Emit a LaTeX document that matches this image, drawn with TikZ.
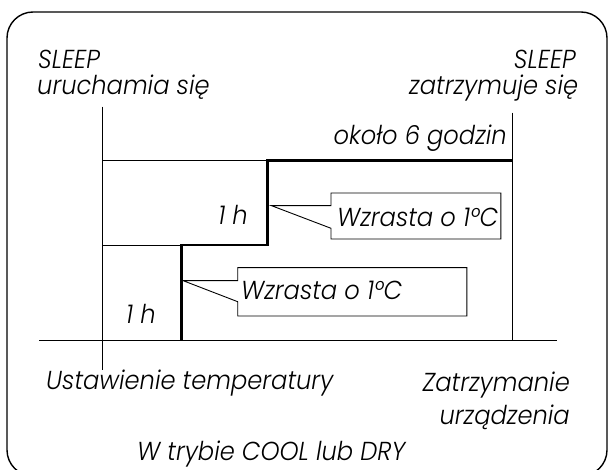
\documentclass[tikz,border=0pt]{standalone}
\usepackage{fontspec}
\setmainfont{Poppins Light}[ItalicFont={Poppins Light Italic},FakeStretch=0.93]
\begin{document}
\begin{tikzpicture}[x=1pt,y=-1pt,
  thin line/.style={line width=0.9pt,line cap=butt},
  thick step/.style={line width=2.6pt,line join=miter,line cap=butt},
  lbl/.style={inner sep=0pt,font=\fontsize{26}{29}\selectfont\itshape},
  callout/.style={line width=0.9pt,line join=miter}]
\useasboundingbox (0,0) rectangle (611,470);
\begin{scope}
\clip (0,0) rectangle (611,470);
\draw[line width=1.4pt,rounded corners=26pt] (7,12) rectangle (607,476);
\end{scope}
% coordinates
\coordinate (Lt) at (102.5,106.7);
\coordinate (Lb) at (102.5,370);
\coordinate (Rt) at (512,112.7);
\coordinate (Rb) at (512,340);
\coordinate (Bl) at (39,340);
\coordinate (Br) at (556.5,340);
\coordinate (T1) at (102.5,160.5);
\coordinate (M1) at (102.5,245);
\coordinate (S0) at (181.2,340);
\coordinate (S1) at (181.2,245);
\coordinate (S2) at (267.5,245);
\coordinate (S3) at (267.5,160.5);
\coordinate (S4) at (512,160.5);
% axes and guide lines
\draw[thin line] (Lt) -- (Lb);
\draw[thin line] (Rt) -- (Rb);
\draw[thin line] (Bl) -- (Br);
\draw[thin line] (T1) -- (S3);
\draw[thin line] (M1) -- (S1);
\draw[thick step] (S0) -- (S1) -- (S2) -- (S3) -- (S4);
% labels
\node[lbl,anchor=base west] (sl1) at (38,68.3) {SLEEP};
\node[lbl,anchor=base west] (sl2) at (37,95) {uruchamia się};
\node[lbl,anchor=base east] (sr1) at (576,68.3) {SLEEP};
\node[lbl,anchor=base east] (sr2) at (578.3,95) {zatrzymuje się};
\node[lbl,anchor=base east] (six) at (507,145) {około 6 godzin};
\node[lbl,anchor=base east] (h1) at (248,225) {1 h};
\node[lbl,anchor=base west] (h2) at (126,323.3) {1 h};
\node[lbl,anchor=base west] (ust) at (46,389.5) {Ustawienie temperatury};
\node[lbl,anchor=base east] (zat) at (570,391.7) {Zatrzymanie};
\node[lbl,anchor=base east] (urz) at (570,425) {urządzenia};
\node[lbl,anchor=base west] (mode) at (137,460.5) {W trybie COOL lub DRY};
% callout boxes
\coordinate (tipA) at (271.6,205.7);
\coordinate (ANW) at (331,193);
\coordinate (ASE) at (500.8,239);
\coordinate (Alow) at (331,228.3);
\draw[callout] (tipA) -- (ANW |- tipA) -- (ANW) -- (ASE |- ANW) -- (ASE) -- (ANW |- ASE) -- (Alow) -- cycle;
\node[lbl,anchor=base west] (wa) at (337,226.7) {Wzrasta o 1°C};
\coordinate (tipB) at (183.2,280.7);
\coordinate (BNW) at (237.7,267.7);
\coordinate (BSE) at (466.9,316);
\coordinate (Blow) at (237.7,301.7);
\draw[callout] (tipB) -- (BNW |- tipB) -- (BNW) -- (BSE |- BNW) -- (BSE) -- (BNW |- BSE) -- (Blow) -- cycle;
\node[lbl,anchor=base west] (wb) at (241,299.3) {Wzrasta o 1°C};
\end{tikzpicture}
\end{document}
